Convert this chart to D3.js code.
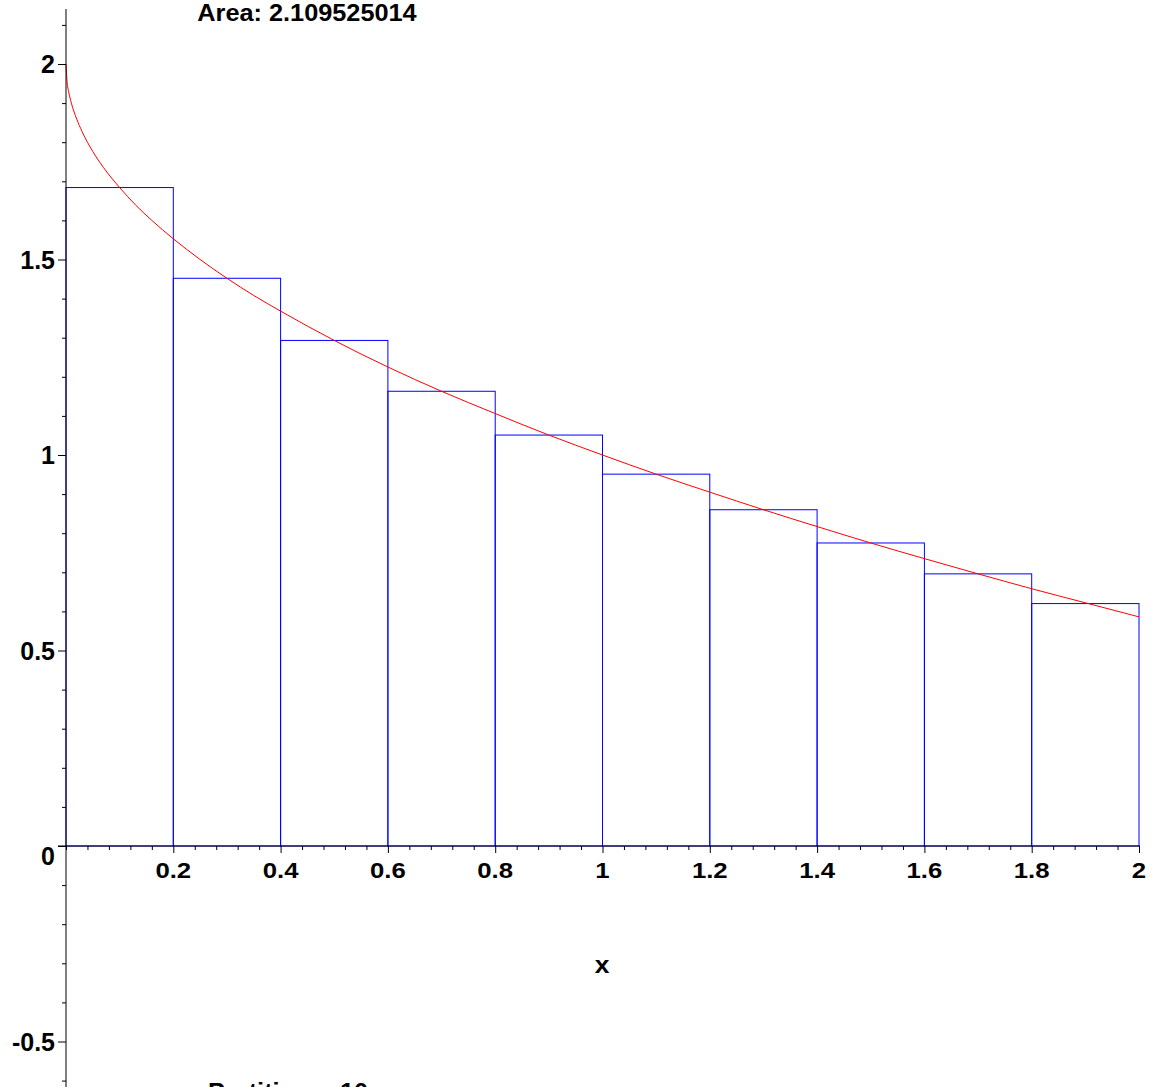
<!DOCTYPE html>
<html>
<head>
<meta charset="utf-8">
<script src="https://cdn.jsdelivr.net/npm/d3@7"></script>
<style>
  body { margin: 0; background: #fff; }
  svg { display: block; }
  text { font-family: "Liberation Sans", Arial, sans-serif; font-weight: bold; fill: #000; }
</style>
</head>
<body>
<div id="chart"></div>
<script>
'use strict'

// ---- data ----
const partitionEdges = [0, 0.2, 0.4, 0.6, 0.8, 1.0, 1.2, 1.4, 1.6, 1.8, 2.0]
const barHeights = [1.684, 1.452, 1.293, 1.163, 1.051, 0.951, 0.860, 0.775, 0.696, 0.620]

const curveX = [0, 0.002, 0.005, 0.01, 0.02, 0.03, 0.05, 0.07, 0.1, 0.13, 0.16, 0.2, 0.25, 0.3, 0.35, 0.4,
    0.5, 0.6, 0.7, 0.8, 0.9, 1.0, 1.1, 1.2, 1.3, 1.4, 1.5, 1.6, 1.7, 1.8, 1.9, 2.0]
const curveY = [2.0, 1.955, 1.929, 1.9, 1.859, 1.827, 1.776, 1.735, 1.684, 1.639, 1.6, 1.553, 1.5, 1.452, 1.408, 1.368,
    1.293, 1.225, 1.163, 1.106, 1.051, 1.0, 0.951, 0.905, 0.86, 0.817, 0.775, 0.735, 0.696, 0.658, 0.622, 0.586]

const xMajorTicks = [0.2, 0.4, 0.6, 0.8, 1, 1.2, 1.4, 1.6, 1.8, 2]
const yMajorTicks = [-0.5, 0, 0.5, 1, 1.5, 2]
const xTickLabels = ["0.2", "0.4", "0.6", "0.8", "1", "1.2", "1.4", "1.6", "1.8", "2"]
const yTickLabels = ["-0.5", "0", "0.5", "1", "1.5", "2"]

const titleText = "Area: 2.109525014"
const captionText = "Partitions: 10"
const xLabel = "x"

// ---- svg setup ----
const svgWidth = 1152
const svgHeight = 1087

const svg = d3.select('#chart')
    .append('svg')
    .attr('width', svgWidth)
    .attr('height', svgHeight)

// ---- scales ----
const x = d3.scaleLinear().domain([0, 2]).range([66, 1139])
const y = d3.scaleLinear().domain([0, 2]).range([846, 64])

const xMinor = d3.range(0, 2.0001, 0.04).filter(v => !xMajorTicks.some(t => Math.abs(t - v) < 1e-6))
const yMinor = d3.range(-0.6, 2.1001, 0.1).filter(v => !yMajorTicks.some(t => Math.abs(t - v) < 1e-6))

// ---- rectangles ----
svg.append('g')
    .selectAll('rect')
    .data(barHeights)
    .join('rect')
    .attr('x', (d, i) => x(partitionEdges[i]))
    .attr('y', d => y(d))
    .attr('width', (d, i) => x(partitionEdges[i + 1]) - x(partitionEdges[i]))
    .attr('height', d => y(0) - y(d))
    .attr('fill', 'none')
    .attr('stroke', '#0000ff')
    .attr('stroke-width', 1)

// ---- curve ----
const curveData = curveX.map((v, i) => ({ x: v, y: curveY[i] }))
svg.append('path')
    .datum(curveData)
    .attr('fill', 'none')
    .attr('stroke', '#ff0000')
    .attr('stroke-width', 1)
    .attr('d', d3.line().x(d => x(d.x)).y(d => y(d.y)).curve(d3.curveMonotoneX))

// ---- axes ----
const gx = svg.append('g')
    .attr('transform', `translate(0,${y(0)})`)
    .call(d3.axisBottom(x).tickValues(xMajorTicks).tickSize(7).tickFormat(''))
gx.select('.domain').remove()

const gxm = svg.append('g').attr('transform', `translate(0,${y(0)})`)
    .call(d3.axisBottom(x).tickValues(xMinor).tickSize(4).tickFormat(''))
gxm.select('.domain').remove()

svg.append('line')
    .attr('x1', 58).attr('x2', 1140)
    .attr('y1', y(0)).attr('y2', y(0))
    .attr('stroke', '#000').attr('stroke-width', 1)

const gy = svg.append('g')
    .attr('transform', `translate(${x(0)},0)`)
    .call(d3.axisLeft(y).tickValues(yMajorTicks).tickSize(8).tickFormat(''))
gy.select('.domain').remove()

const gym = svg.append('g').attr('transform', `translate(${x(0)},0)`)
    .call(d3.axisLeft(y).tickValues(yMinor).tickSize(4).tickFormat(''))
gym.select('.domain').remove()

svg.append('line')
    .attr('x1', x(0)).attr('x2', x(0))
    .attr('y1', 9).attr('y2', svgHeight)
    .attr('stroke', '#000').attr('stroke-width', 1)

// tick labels (maple fonts are a little wider than Arial)
svg.append('g')
    .selectAll('text')
    .data(xMajorTicks)
    .join('text')
    .attr('transform', d => `translate(${x(d)},878) scale(1.12,1)`)
    .attr('text-anchor', 'middle')
    .attr('font-size', 23)
    .text((d, i) => xTickLabels[i])

svg.append('g')
    .selectAll('text')
    .data(yMajorTicks)
    .join('text')
    // the 0 label sits below the x axis
    .attr('transform', d => `translate(55,${d === 0 ? y(d) + 19 : y(d) + 9})`)
    .attr('text-anchor', 'end')
    .attr('font-size', 25)
    .text((d, i) => yTickLabels[i])

// ---- texts ----
svg.append('text')
    .attr('transform', 'translate(307,21) scale(1.1,1)')
    .attr('text-anchor', 'middle')
    .attr('font-size', 23)
    .text(titleText)

svg.append('text')
    .attr('transform', 'translate(602,973) scale(1.1,1)')
    .attr('text-anchor', 'middle')
    .attr('font-size', 24)
    .text(xLabel)

svg.append('text')
    .attr('transform', 'translate(288,1100) scale(1.1,1)')
    .attr('text-anchor', 'middle')
    .attr('font-size', 23)
    .text(captionText)
</script>
</body>
</html>
